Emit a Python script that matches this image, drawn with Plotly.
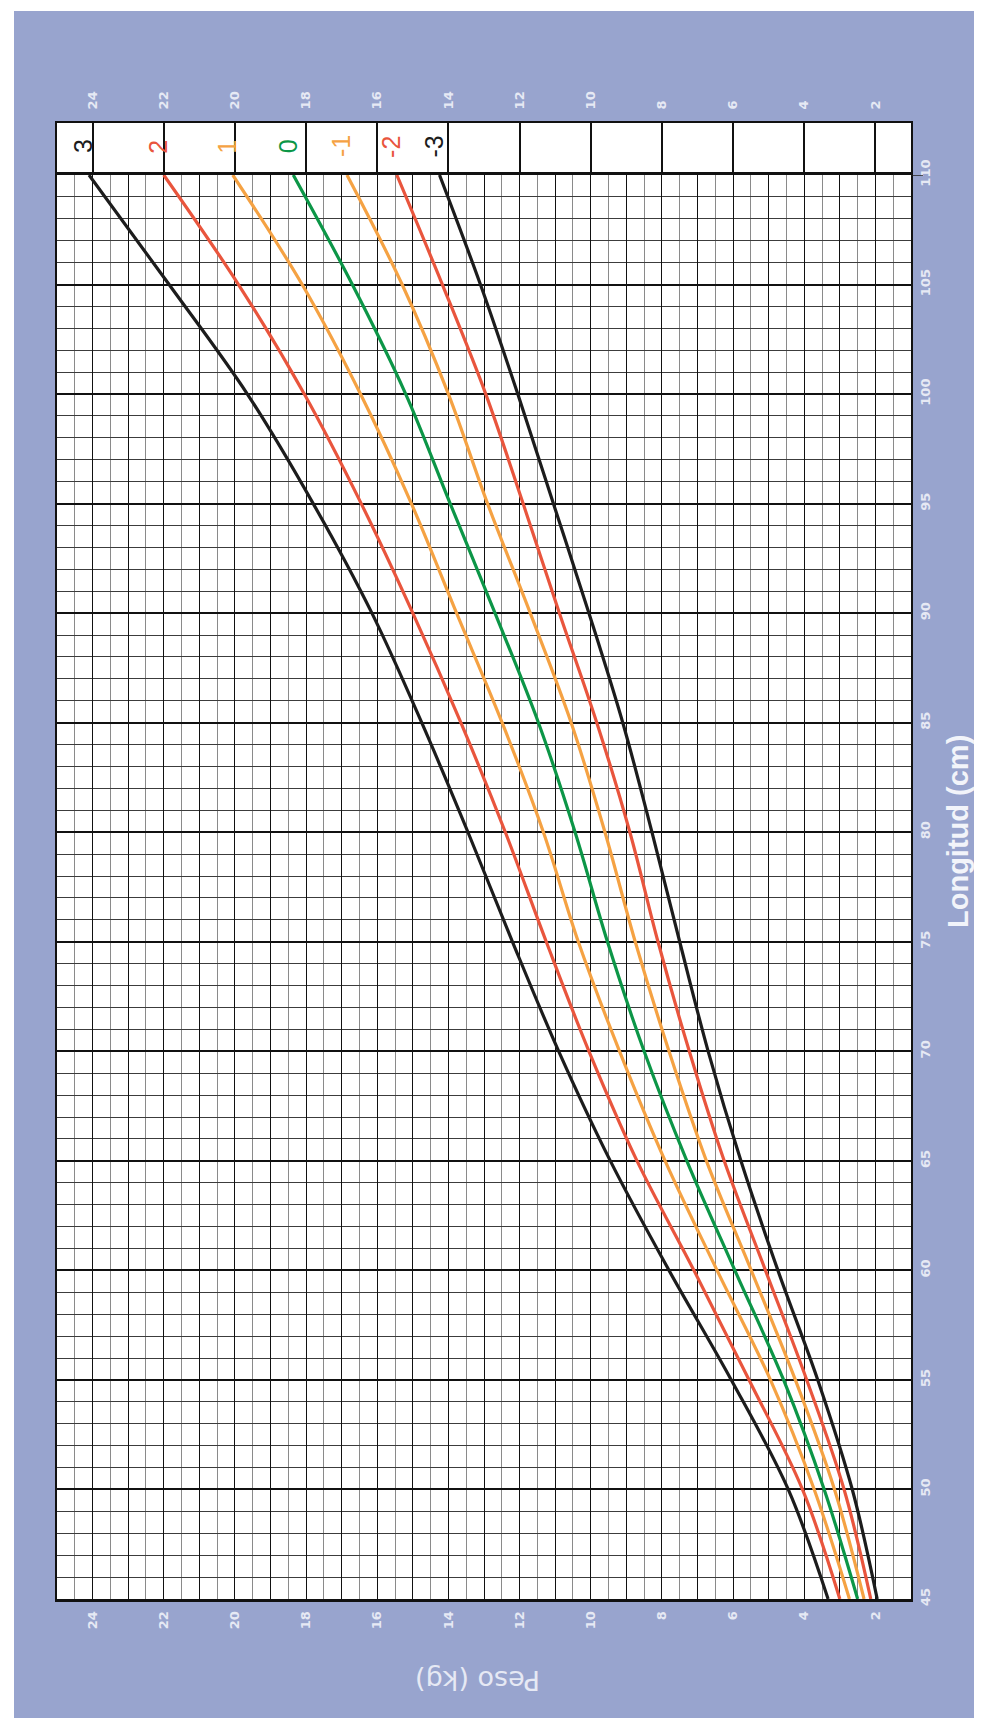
import plotly.graph_objects as go

# ---------------- data ----------------
length_cm = [45, 50, 55, 60, 65, 70, 75, 80, 85, 90, 95, 100, 105, 110]

sd_p3 = [3.33, 4.45, 6.05, 7.80, 9.45, 10.90, 12.20, 13.45, 14.75, 16.15, 17.80, 19.65, 21.85, 24.10]
sd_p2 = [3.00, 4.05, 5.55, 7.10, 8.70, 10.05, 11.25, 12.40, 13.65, 15.00, 16.45, 18.05, 19.90, 22.00]
sd_p1 = [2.73, 3.72, 4.95, 6.45, 7.91, 9.19, 10.35, 11.33, 12.49, 13.77, 15.04, 16.47, 18.11, 20.06]
sd_0 = [2.50, 3.44, 4.58, 5.95, 7.30, 8.50, 9.53, 10.44, 11.47, 12.69, 13.95, 15.20, 16.70, 18.36]
sd_m1 = [2.32, 3.15, 4.25, 5.49, 6.75, 7.80, 8.75, 9.60, 10.55, 11.70, 12.90, 14.00, 15.30, 16.85]
sd_m2 = [2.13, 2.88, 3.93, 5.09, 6.25, 7.23, 8.11, 8.90, 9.83, 10.88, 11.90, 12.95, 14.17, 15.45]
sd_m3 = [1.95, 2.65, 3.62, 4.74, 5.78, 6.70, 7.50, 8.28, 9.10, 10.05, 11.05, 12.05, 13.10, 14.25]

curve_labels = ["3", "2", "1", "0", "-1", "-2", "-3"]
weight_ticks = [2, 4, 6, 8, 10, 12, 14, 16, 18, 20, 22, 24]
length_ticks = [45, 50, 55, 60, 65, 70, 75, 80, 85, 90, 95, 100, 105, 110]

# ---------------- styles ----------------
BLACK = "#1c1c1c"
RED = "#E9553D"
ORANGE = "#F5A243"
GREEN = "#0C9647"
BLUE_BG = "#98A4CE"
TXT = "#E6E9F4"

series = [
    (sd_p3, BLACK), (sd_p2, RED), (sd_p1, ORANGE), (sd_0, GREEN),
    (sd_m1, ORANGE), (sd_m2, RED), (sd_m3, BLACK),
]

W, H = 982, 1718
ML, MR, MT, MB = 49, 79, 115, 127
PLOT_W = W - ML - MR
PLOT_H = H - MT - MB
STRIP = 52 / PLOT_H

fig = go.Figure()
for vals, col in series:
    fig.add_trace(go.Scatter(
        x=vals, y=length_cm, mode="lines", xaxis="x", yaxis="y",
        line=dict(color=col, width=3.2, shape="spline", smoothing=1.0),
        showlegend=False, hoverinfo="skip"))

# helper traces so the extra axes are drawn
fig.add_trace(go.Scatter(x=[None], y=[None], xaxis="x2", yaxis="y2", showlegend=False))
fig.add_trace(go.Scatter(x=[None], y=[None], xaxis="x3", yaxis="y", showlegend=False))

tickfont = dict(family="DejaVu Sans", size=13, color=TXT, weight="bold")
TRANSP = "rgba(0,0,0,0)"

fig.update_layout(
    width=W, height=H,
    margin=dict(l=ML, r=MR, t=MT, b=MB, pad=0),
    paper_bgcolor="white", plot_bgcolor="white",
    showlegend=False,
    xaxis=dict(
        domain=[0, 1], range=[25, 1], anchor="y",
        tickmode="linear", tick0=0, dtick=1, showticklabels=False, ticks="",
        showgrid=True, gridcolor="#111111", gridwidth=1.4,
        minor=dict(tickmode="linear", tick0=0, dtick=0.5, showgrid=True,
                   gridcolor="#8a8a8a", gridwidth=1.1, ticks=""),
        zeroline=False, showline=True, mirror=True, linecolor="#111111", linewidth=2.5,
    ),
    xaxis3=dict(
        overlaying="x", anchor="y", side="bottom", range=[25, 1],
        tickmode="array", tickvals=weight_ticks, ticktext=[str(v) for v in weight_ticks],
        tickangle=-90, tickfont=tickfont, ticks="outside", ticklen=6, tickcolor=TRANSP,
        showgrid=False, zeroline=False, showline=False,
    ),
    yaxis=dict(
        domain=[0, 1 - STRIP], range=[45, 110], anchor="x", side="right",
        tickmode="array", tickvals=length_ticks, ticktext=[str(v) for v in length_ticks],
        tickangle=-90, tickfont=tickfont, ticks="outside", ticklen=1, tickcolor=TRANSP,
        showgrid=True, gridcolor="#111111", gridwidth=2,
        minor=dict(tickmode="linear", tick0=45, dtick=1, showgrid=True,
                   gridcolor="#3c3c3c", gridwidth=1.3, ticks=""),
        zeroline=False, showline=True, mirror=True, linecolor="#111111", linewidth=2,
    ),
    xaxis2=dict(
        domain=[0, 1], range=[25, 1], anchor="y2", side="top",
        tickmode="array", tickvals=weight_ticks, ticktext=[str(v) for v in weight_ticks],
        tickangle=-90, tickfont=tickfont, ticks="outside", ticklen=9, tickcolor=TRANSP,
        showgrid=True, gridcolor="#111111", gridwidth=1.6,
        zeroline=False, showline=True, mirror=False, linecolor="#111111", linewidth=2,
    ),
    yaxis2=dict(
        domain=[1 - STRIP, 1], range=[0, 1], anchor="x2",
        showgrid=False, showticklabels=False, ticks="", zeroline=False,
        showline=True, mirror=True, linecolor="#111111", linewidth=2,
    ),
)

# background: blue panel with thin white edge, white plotting area
fig.add_shape(type="rect", xref="paper", yref="paper", layer="below",
              x0=(6 - ML) / PLOT_W, x1=(W + 10 - ML) / PLOT_W,
              y0=-(H - 5 - MT - PLOT_H) / PLOT_H, y1=(PLOT_H + MT - 3) / PLOT_H,
              fillcolor=BLUE_BG, line=dict(width=0))
fig.add_shape(type="rect", xref="paper", yref="paper", layer="below",
              x0=0, x1=1, y0=0, y1=1, fillcolor="white", line=dict(width=0))

# small tick mark at the top length value
fig.add_shape(type="line", xref="paper", yref="y", x0=1, x1=1 + 12 / PLOT_W,
              y0=length_ticks[-1], y1=length_ticks[-1], line=dict(color="#222222", width=1.5))

# z-score labels in the top strip, next to the curve ends
for (vals, col), lab in zip(series, curve_labels):
    fig.add_annotation(x=vals[-1] + 0.15, y=0.55, xref="x2", yref="y2",
                       text=lab, showarrow=False, textangle=-90,
                       font=dict(family="Liberation Sans", size=25, color=col),
                       xanchor="center", yanchor="middle")

# axis titles
fig.add_annotation(x=(950 - ML) / PLOT_W, y=(MT + PLOT_H - 824) / PLOT_H,
                   xref="paper", yref="paper", text="Longitud (cm)", showarrow=False,
                   textangle=-90, xanchor="center", yanchor="middle",
                   font=dict(family="Liberation Sans", size=29, color="#F2F4FA", weight="bold"))
fig.add_annotation(x=(470 - ML) / PLOT_W, y=(MT + PLOT_H - 1673) / PLOT_H,
                   xref="paper", yref="paper", text="Peso (kg)", showarrow=False,
                   textangle=180, xanchor="center", yanchor="middle",
                   font=dict(family="DejaVu Sans", size=27, color=TXT))

fig.write_html("out.html", config={"displayModeBar": False})
